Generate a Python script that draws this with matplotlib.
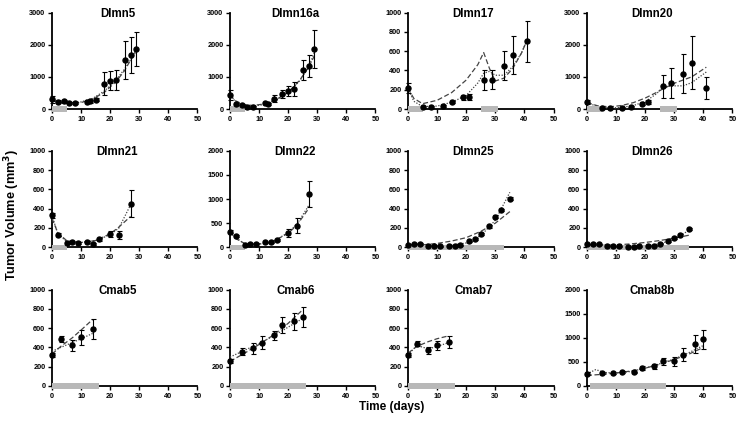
import matplotlib
matplotlib.use("Agg")
import matplotlib.pyplot as plt
from matplotlib.patches import Rectangle
from matplotlib.transforms import blended_transform_factory

plt.rcParams['font.family'] = ['Liberation Sans', 'DejaVu Sans']
plt.rcParams['font.weight'] = 'bold'

# ---------------- data ----------------
titles = ["Dlmn5", "Dlmn16a", "Dlmn17", "Dlmn20",
          "Dlmn21", "Dlmn22", "Dlmn25", "Dlmn26",
          "Cmab5", "Cmab6", "Cmab7", "Cmab8b"]
ymax = [3000, 3000, 1000, 3000, 1000, 2000, 1000, 1000, 1000, 1000, 1000, 2000]
x_ticks = [0, 10, 20, 30, 40, 50]

dlmn5_day = [0, 2, 4, 6, 8, 12, 13, 15, 18, 20, 22, 25, 27, 29]
dlmn5_vol = [300, 230, 240, 190, 190, 230, 240, 290, 790, 880, 900, 1520, 1670, 1870]
dlmn5_err = [100, 50, 40, 40, 30, 40, 50, 40, 350, 300, 310, 600, 560, 520]
dlmn5_fit_x = [0, 3, 6, 10, 14, 18, 22, 25, 29]
dlmn5_fit_a = [250, 200, 170, 200, 310, 520, 850, 1200, 1850]
dlmn5_fit_b = [300, 230, 190, 220, 330, 560, 900, 1250, 1800]
dlmn5_bars = [(0, 5)]

dlmn16a_day = [0, 2, 4, 6, 8, 12, 13, 15, 18, 20, 22, 25, 27, 29]
dlmn16a_vol = [430, 150, 130, 75, 70, 175, 145, 320, 470, 570, 630, 1210, 1340, 1860]
dlmn16a_err = [150, 30, 30, 25, 25, 30, 30, 100, 130, 160, 220, 320, 350, 590]
dlmn16a_fit_x = [0, 2, 5, 8, 12, 16, 20, 24, 27, 29]
dlmn16a_fit_a = [430, 250, 130, 110, 160, 300, 520, 900, 1300, 1650]
dlmn16a_fit_b = [430, 220, 100, 90, 140, 280, 500, 880, 1300, 1750]
dlmn16a_bars = [(0, 5)]

dlmn17_day = [0, 5, 8, 12, 15, 19, 21, 26, 29, 33, 36, 41]
dlmn17_vol = [215, 22, 25, 30, 72, 120, 125, 300, 305, 450, 560, 700]
dlmn17_err = [50, 10, 10, 10, 15, 25, 30, 100, 100, 150, 195, 215]
dlmn17_fit_x = [0, 2, 5, 10, 15, 20, 24, 26, 28, 30, 33, 36, 39, 41]
dlmn17_fit_a = [215, 110, 55, 90, 170, 300, 460, 585, 420, 290, 320, 420, 580, 720]
dlmn17_fit_b = [215, 80, 25, 30, 70, 140, 270, 370, 390, 350, 350, 440, 580, 720]
dlmn17_bars = [(0, 5), (25, 31)]

dlmn20_day = [0, 5, 8, 12, 15, 19, 21, 26, 29, 33, 36, 41]
dlmn20_vol = [220, 40, 20, 40, 75, 170, 230, 710, 800, 1100, 1440, 650]
dlmn20_err = [50, 20, 20, 20, 30, 40, 60, 360, 460, 610, 830, 340]
dlmn20_fit_x = [0, 4, 8, 12, 16, 20, 24, 26, 30, 33, 36, 41]
dlmn20_fit_a = [200, 90, 70, 110, 200, 340, 520, 620, 800, 900, 1000, 1300]
dlmn20_fit_b = [200, 60, 30, 50, 110, 230, 480, 690, 720, 720, 820, 1150]
dlmn20_bars = [(0, 5), (25, 31)]

dlmn21_day = [0, 2, 5, 7, 9, 12, 14, 16, 20, 23, 27]
dlmn21_vol = [330, 130, 45, 60, 45, 55, 38, 85, 140, 125, 450]
dlmn21_err = [30, 15, 10, 10, 10, 10, 10, 15, 30, 40, 140]
dlmn21_fit_x = [0, 2, 5, 10, 15, 20, 23, 27]
dlmn21_fit_a = [300, 150, 70, 50, 70, 140, 210, 320]
dlmn21_fit_b = [330, 140, 60, 50, 70, 130, 200, 440]
dlmn21_bars = [(0, 5)]

dlmn22_day = [0, 2, 5, 7, 9, 12, 14, 16, 20, 23, 27]
dlmn22_vol = [320, 230, 50, 70, 70, 100, 100, 150, 290, 450, 1100]
dlmn22_err = [30, 20, 10, 10, 10, 15, 15, 20, 80, 160, 270]
dlmn22_fit_x = [0, 2, 5, 10, 15, 20, 23, 27]
dlmn22_fit_a = [320, 180, 80, 70, 130, 290, 460, 800]
dlmn22_fit_b = [320, 200, 70, 65, 120, 310, 480, 860]
dlmn22_bars = [(0, 5)]

dlmn25_day = [0, 2, 4, 7, 9, 11, 14, 16, 18, 21, 23, 25, 28, 30, 32, 35]
dlmn25_vol = [28, 38, 32, 15, 15, 10, 15, 15, 20, 62, 86, 138, 217, 317, 386, 503]
dlmn25_err = [8, 8, 8, 6, 6, 6, 6, 6, 6, 8, 10, 12, 12, 15, 15, 15]
dlmn25_fit_x = [0, 5, 10, 15, 20, 25, 30, 35]
dlmn25_fit_a = [20, 25, 40, 65, 100, 165, 250, 370]
dlmn25_fit_b = [30, 20, 15, 20, 45, 120, 280, 570]
dlmn25_bars = [(0, 33)]

dlmn26_day = [0, 2, 4, 7, 9, 11, 14, 16, 18, 21, 23, 25, 28, 30, 32, 35]
dlmn26_vol = [30, 35, 30, 15, 12, 10, 5, 5, 10, 15, 15, 38, 62, 100, 131, 193]
dlmn26_err = [8, 8, 8, 6, 6, 6, 5, 5, 5, 6, 6, 8, 10, 10, 12, 12]
dlmn26_fit_x = [0, 5, 10, 15, 20, 25, 30, 35]
dlmn26_fit_a = [20, 20, 25, 35, 50, 70, 95, 125]
dlmn26_fit_b = [30, 20, 12, 10, 15, 35, 85, 175]
dlmn26_bars = [(0, 35)]

cmab5_day = [0, 3, 7, 10, 14]
cmab5_vol = [325, 483, 421, 505, 593]
cmab5_err = [20, 30, 60, 80, 105]
cmab5_fit_x = [0, 3, 7, 10, 14]
cmab5_fit_a = [330, 410, 500, 580, 690]
cmab5_fit_b = [360, 400, 450, 490, 545]
cmab5_bars = [(0, 16)]

cmab6_day = [0, 4, 8, 11, 15, 18, 22, 25]
cmab6_vol = [262, 355, 390, 448, 524, 631, 669, 717]
cmab6_err = [20, 35, 55, 65, 50, 80, 85, 105]
cmab6_fit_x = [0, 5, 10, 15, 20, 25]
cmab6_fit_a = [255, 340, 430, 530, 650, 790]
cmab6_fit_b = [300, 370, 440, 520, 610, 700]
cmab6_bars = [(0, 26)]

cmab7_day = [0, 3, 7, 10, 14]
cmab7_vol = [320, 438, 369, 421, 455]
cmab7_err = [20, 25, 40, 50, 65]
cmab7_fit_x = [0, 3, 7, 10, 14]
cmab7_fit_a = [340, 410, 460, 490, 520]
cmab7_fit_b = [320, 420, 385, 410, 450]
cmab7_bars = [(0, 16)]

cmab8b_day = [0, 5, 9, 12, 16, 19, 23, 26, 30, 33, 37, 40]
cmab8b_vol = [250, 276, 275, 290, 280, 379, 407, 510, 510, 648, 869, 966]
cmab8b_err = [30, 20, 20, 20, 20, 40, 50, 70, 100, 140, 190, 190]
cmab8b_fit_x = [0, 5, 10, 15, 20, 25, 30, 35, 40]
cmab8b_fit_a = [220, 240, 270, 310, 370, 450, 550, 660, 800]
cmab8b_fit_bx = [0, 3, 6, 10, 15, 20, 25, 30, 35, 40]
cmab8b_fit_b = [250, 340, 280, 270, 300, 370, 460, 560, 690, 840]
cmab8b_bars = [(1, 27)]

panels = [
    (dlmn5_day, dlmn5_vol, dlmn5_err, dlmn5_fit_x, dlmn5_fit_a, dlmn5_fit_x, dlmn5_fit_b, dlmn5_bars),
    (dlmn16a_day, dlmn16a_vol, dlmn16a_err, dlmn16a_fit_x, dlmn16a_fit_a, dlmn16a_fit_x, dlmn16a_fit_b, dlmn16a_bars),
    (dlmn17_day, dlmn17_vol, dlmn17_err, dlmn17_fit_x, dlmn17_fit_a, dlmn17_fit_x, dlmn17_fit_b, dlmn17_bars),
    (dlmn20_day, dlmn20_vol, dlmn20_err, dlmn20_fit_x, dlmn20_fit_a, dlmn20_fit_x, dlmn20_fit_b, dlmn20_bars),
    (dlmn21_day, dlmn21_vol, dlmn21_err, dlmn21_fit_x, dlmn21_fit_a, dlmn21_fit_x, dlmn21_fit_b, dlmn21_bars),
    (dlmn22_day, dlmn22_vol, dlmn22_err, dlmn22_fit_x, dlmn22_fit_a, dlmn22_fit_x, dlmn22_fit_b, dlmn22_bars),
    (dlmn25_day, dlmn25_vol, dlmn25_err, dlmn25_fit_x, dlmn25_fit_a, dlmn25_fit_x, dlmn25_fit_b, dlmn25_bars),
    (dlmn26_day, dlmn26_vol, dlmn26_err, dlmn26_fit_x, dlmn26_fit_a, dlmn26_fit_x, dlmn26_fit_b, dlmn26_bars),
    (cmab5_day, cmab5_vol, cmab5_err, cmab5_fit_x, cmab5_fit_a, cmab5_fit_x, cmab5_fit_b, cmab5_bars),
    (cmab6_day, cmab6_vol, cmab6_err, cmab6_fit_x, cmab6_fit_a, cmab6_fit_x, cmab6_fit_b, cmab6_bars),
    (cmab7_day, cmab7_vol, cmab7_err, cmab7_fit_x, cmab7_fit_a, cmab7_fit_x, cmab7_fit_b, cmab7_bars),
    (cmab8b_day, cmab8b_vol, cmab8b_err, cmab8b_fit_x, cmab8b_fit_a, cmab8b_fit_bx, cmab8b_fit_b, cmab8b_bars),
]

# ---------------- layout ----------------
W, H = 750, 428
fig = plt.figure(figsize=(W / 100, H / 100), dpi=100)
lefts_px = [52, 230, 408, 587]
bottoms_px = [109, 247.3, 386]
height_px = 96.5
width_px = 145.5

for i, (title, top, p) in enumerate(zip(titles, ymax, panels)):
    r, c = divmod(i, 4)
    ax = fig.add_axes([lefts_px[c] / W, 1 - bottoms_px[r] / H, width_px / W, height_px / H])
    day, vol, err, fxa, fya, fxb, fyb, bars = p
    ax.plot(fxa, fya, color='#444444', lw=0.9, ls=(0, (4, 2)), zorder=3)
    ax.plot(fxb, fyb, color='#444444', lw=0.9, ls=(0, (1, 1.3)), zorder=3)
    ax.errorbar(day, vol, yerr=err, fmt='o', color='black', ms=3.6,
                elinewidth=0.8, capsize=1.8, capthick=0.8, zorder=4, clip_on=False)
    trans = blended_transform_factory(ax.transData, ax.transAxes)
    for (b0, b1) in bars:
        ax.add_patch(Rectangle((b0, -0.028), b1 - b0, 0.056, transform=trans,
                               facecolor='#b8b8b8', edgecolor='none', zorder=3.5, clip_on=False))
    ax.set_xlim(0, 50)
    ax.set_ylim(0, top)
    step = {3000: 1000, 2000: 500, 1000: 200}[top]
    ax.set_yticks(list(range(0, top + 1, step)))
    ax.set_xticks(x_ticks)
    for s in ['top', 'right']:
        ax.spines[s].set_visible(False)
    for s in ['left', 'bottom']:
        ax.spines[s].set_linewidth(1.3)
    ax.tick_params(axis='both', direction='out', length=2.8, width=1.0, labelsize=5.3, pad=2)
    for lab in ax.get_xticklabels() + ax.get_yticklabels():
        lab.set_fontweight('bold')
    ax.text(0.45, 0.985, title, transform=ax.transAxes, ha='center', va='center',
            fontsize=8.3, fontweight='bold')

fig.text(12 / W, 1 - 215 / H, 'Tumor Volume (mm$^\\mathbf{3}$)', rotation=90, ha='center',
         va='center', fontsize=9.2, fontweight='bold')
fig.text(392 / W, 1 - 407 / H, 'Time (days)', ha='center', va='center',
         fontsize=8.5, fontweight='bold')

fig.savefig('out.png', dpi=100, facecolor='white')
